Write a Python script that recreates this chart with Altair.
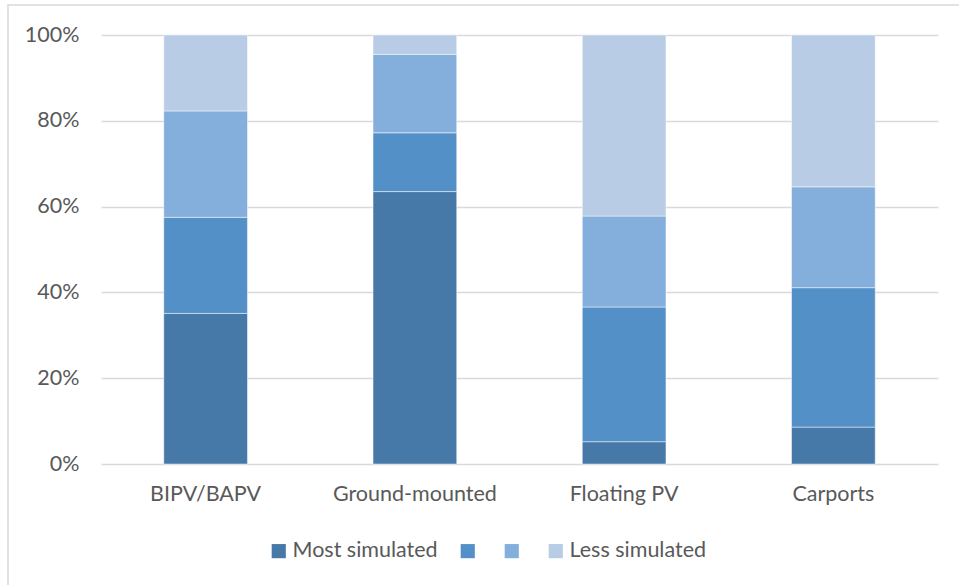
import altair as alt
import pandas as pd

# Share of studies per PV application, split by how often it is simulated
categories = ["BIPV/BAPV", "Ground-mounted", "Floating PV", "Carports"]
levels = ["Most simulated", "Level 2", "Level 3", "Less simulated"]
most_simulated = [35.1, 63.5, 5.2, 8.6]
level_2 = [22.4, 13.7, 31.4, 32.5]
level_3 = [24.8, 18.3, 21.2, 23.5]
less_simulated = [17.7, 4.5, 42.2, 35.4]
colors = ["#4678A8", "#5390C7", "#84AEDB", "#B8CCE6"]

series = [most_simulated, level_2, level_3, less_simulated]
rows = []
for lvl_i, (lvl, vals) in enumerate(zip(levels, series)):
    for cat, v in zip(categories, vals):
        rows.append({"category": cat, "level": lvl, "order": lvl_i, "share": v / 100})
df = pd.DataFrame(rows)

FONT = "Lato"
GREY = "#595959"
FS = 21.5

bars = alt.Chart(df).mark_bar(stroke="#ffffff", strokeWidth=0.8, strokeOpacity=0.6).encode(
    x=alt.X(
        "category:N",
        sort=categories,
        title=None,
        scale=alt.Scale(paddingInner=0.6, paddingOuter=0.3),
        axis=alt.Axis(labelAngle=0, ticks=False, domain=False, labelPadding=19,
                      labelFontSize=FS, labelColor=GREY, labelFont=FONT),
    ),
    y=alt.Y(
        "sum(share):Q",
        stack="zero",
        title=None,
        scale=alt.Scale(domain=[0, 1]),
        axis=alt.Axis(format=".0%", values=[0, 0.2, 0.4, 0.6, 0.8, 1.0], ticks=False,
                      domain=False, labelPadding=22, labelFontSize=FS,
                      labelColor=GREY, labelFont=FONT, gridColor="#D9D9D9", gridWidth=1.3),
    ),
    color=alt.Color(
        "level:N",
        sort=levels,
        scale=alt.Scale(domain=levels, range=colors),
        legend=alt.Legend(
            title=None, orient="none", direction="horizontal", legendX=167, legendY=505,
            symbolType="square", symbolSize=200, symbolStrokeWidth=0,
            labelFontSize=FS, labelColor=GREY, labelFont=FONT, labelOffset=3,
            columnPadding=19,
            labelExpr="datum.label == 'Level 2' || datum.label == 'Level 3' ? '' : datum.label",
        ),
    ),
    order=alt.Order("order:Q", sort="ascending"),
)

# Thin outer frame around the whole figure
frame = alt.Chart(pd.DataFrame({"k": [0]})).mark_rect(
    fill=None, stroke="#D9D9D9", strokeWidth=1.5, clip=False
).encode(
    x=alt.value(-93), x2=alt.value(880), y=alt.value(-30), y2=alt.value(580)
)

chart = alt.layer(frame, bars).properties(
    width=837,
    height=429,
    padding={"left": 101, "top": 35, "right": 21, "bottom": 121},
    autosize=alt.AutoSizeParams(type="none"),
    background="#ffffff",
).configure_view(stroke=None)

chart.save("out.html", embed_options={"renderer": "svg", "actions": False})
